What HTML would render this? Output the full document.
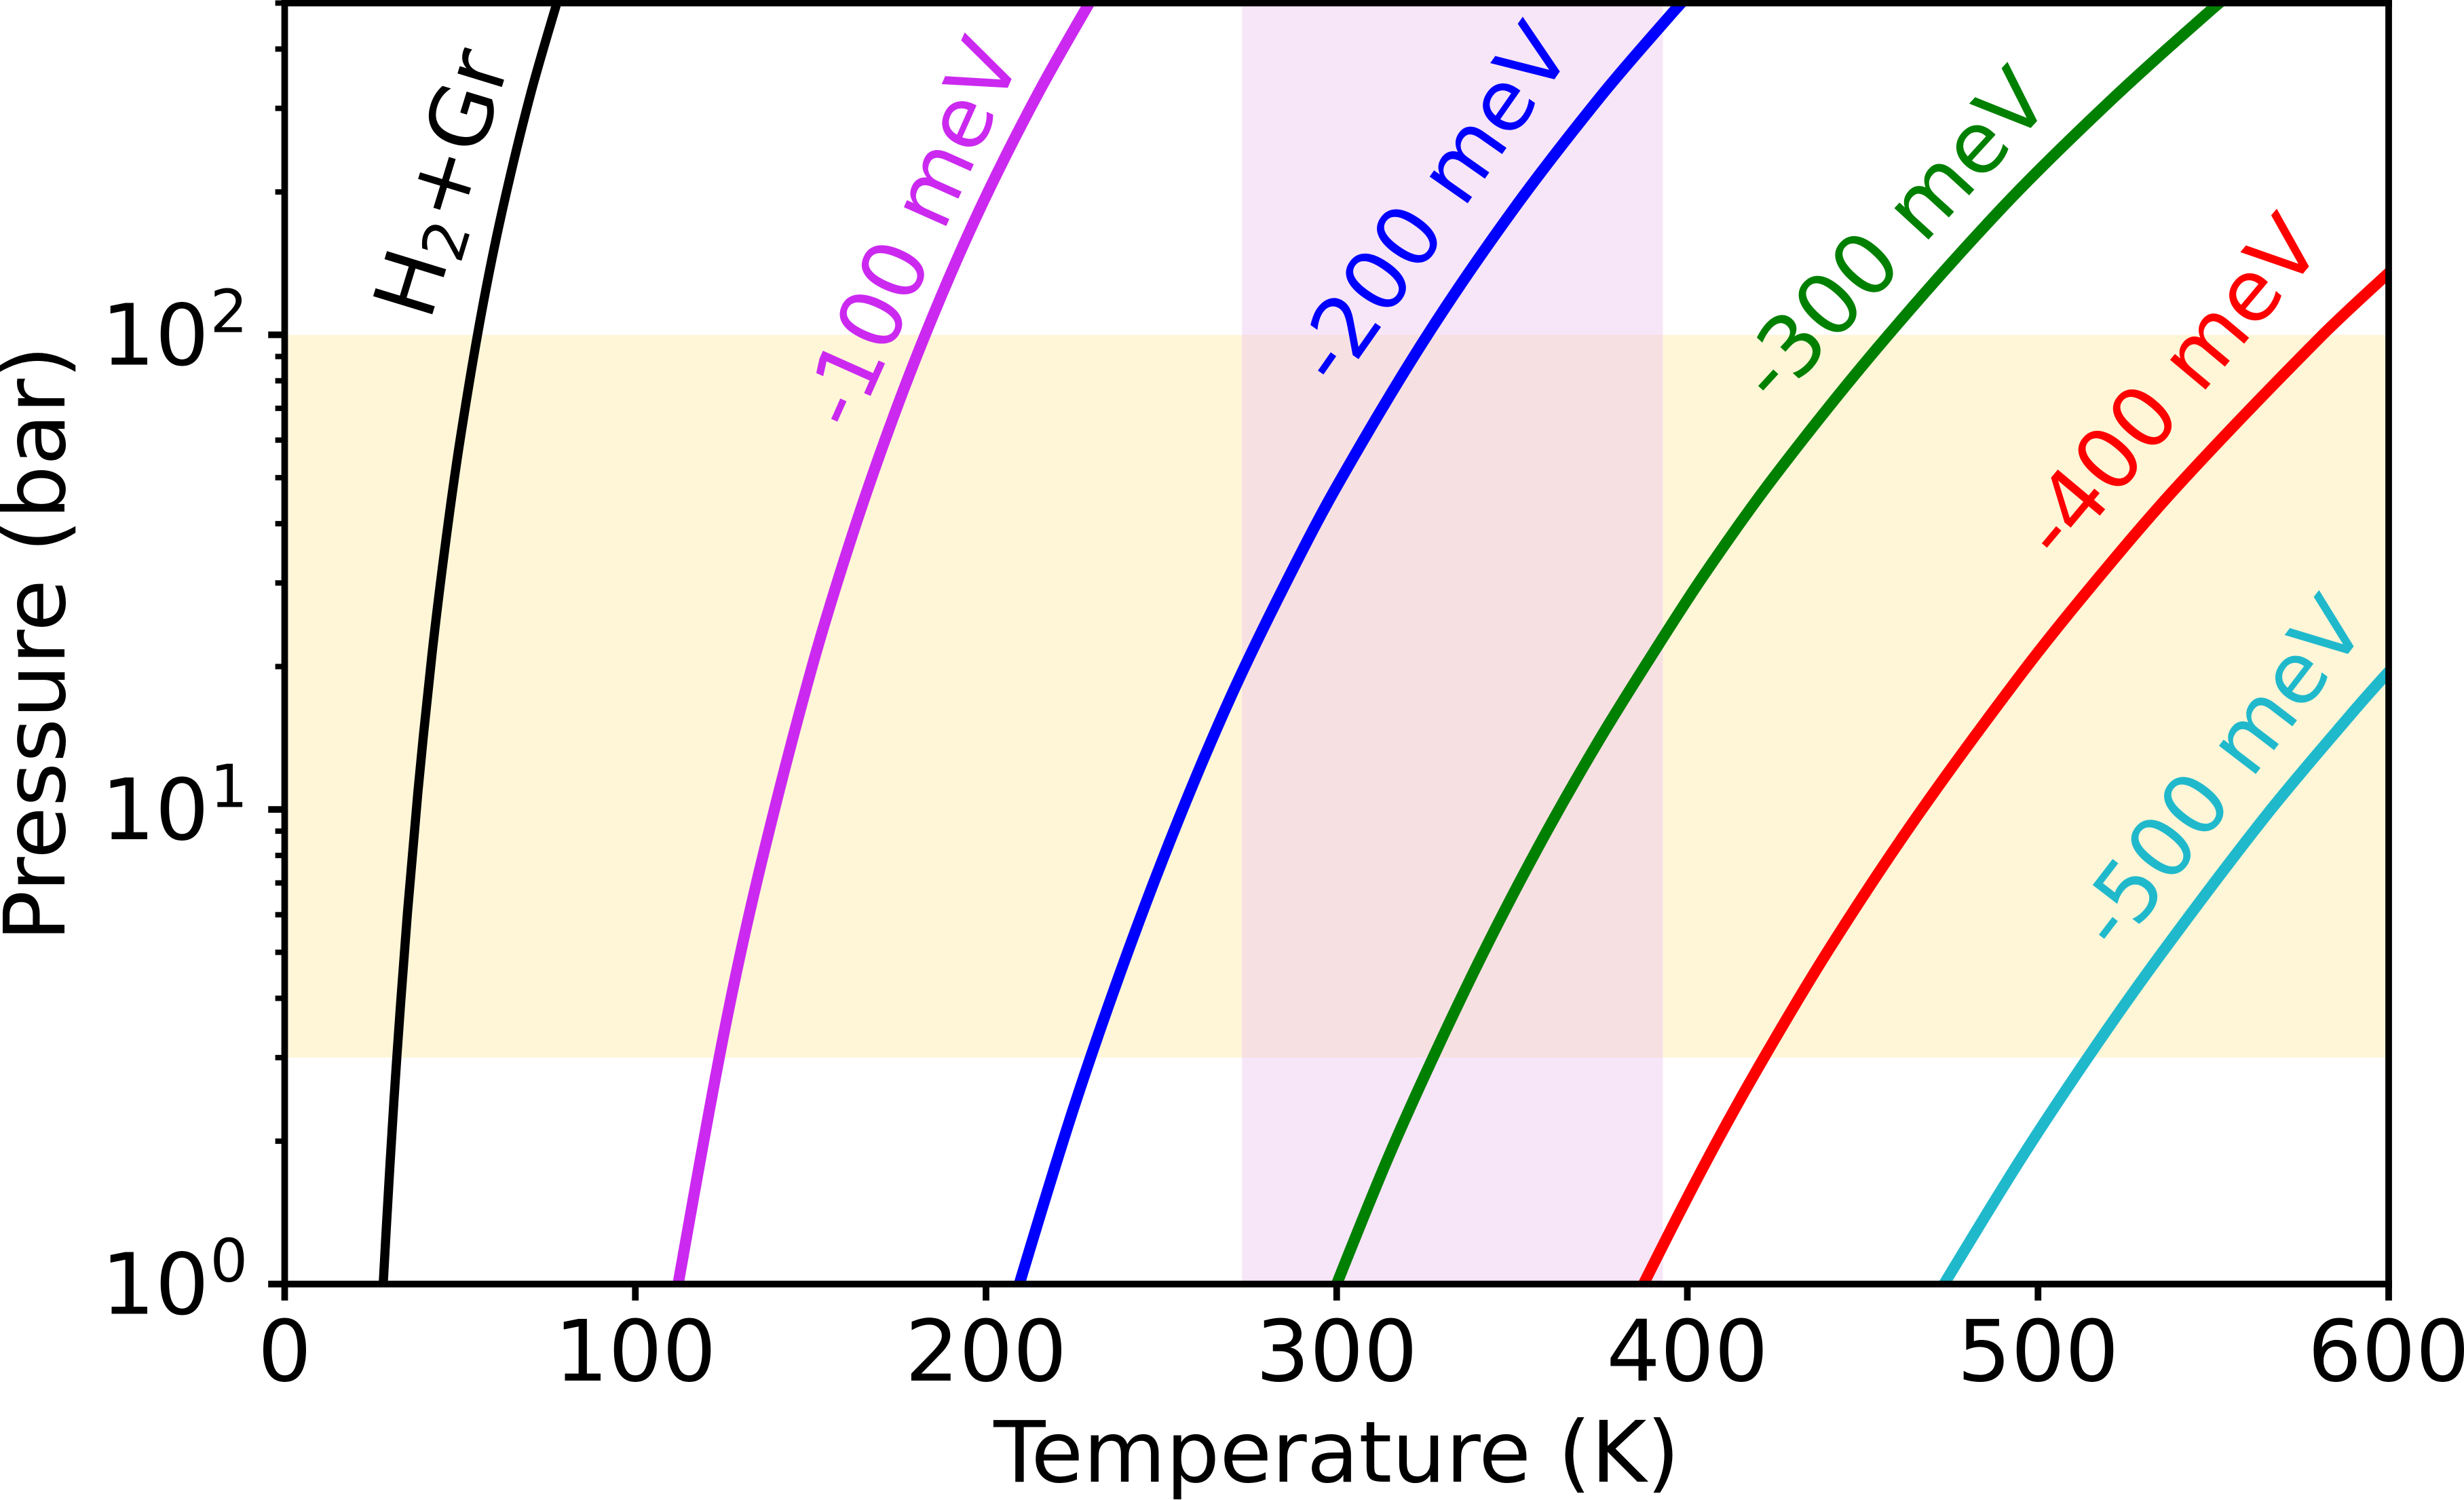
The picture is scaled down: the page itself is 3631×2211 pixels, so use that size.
<!DOCTYPE html>
<html lang="en">
<head>
<meta charset="utf-8">
<title>Pressure vs Temperature</title>
<style>
html,body{margin:0;padding:0;background:#fff;}
svg{display:block;position:absolute;left:0;top:0;}
text{font-family:"DejaVu Sans","Liberation Sans",sans-serif;font-size:125px;}
</style>
</head>
<body>
<svg id="chart" xmlns="http://www.w3.org/2000/svg" width="3631" height="2211" viewBox="0 0 3631 2211">
  <defs>
    <clipPath id="axes-clip"><rect x="419.5" y="4.5" width="3100.5" height="1888.2"></rect></clipPath>
  </defs>
  <rect x="0" y="0" width="3631" height="2211" fill="#ffffff"></rect>
  <g id="bands"></g>
  <g id="curves" clip-path="url(#axes-clip)"></g>
  <g id="labels"></g>
  <g id="axes"></g>
</svg>
<script>
// Axis limits
const xLimits = [0, 600];
const yLimits = [1, 500];
// Tick values
const xTicks = [0, 100, 200, 300, 400, 500, 600];
const yMajorTicks = [1, 10, 100];
const yMajorExponents = ["0", "1", "2"];
const yMinorTicks = [2, 3, 4, 5, 6, 7, 8, 9, 20, 30, 40, 50, 60, 70, 80, 90, 200, 300, 400, 500];
// Shaded ranges
const pressureBand = [3, 100];
const temperatureBand = [273, 393];
// Curve values
const h2GrTemperature = [27, 28.1, 30, 32, 35, 38, 42, 46, 50, 56, 62, 70, 78, 80];
const h2GrPressure = [0.693, 1, 1.77, 3.02, 6.04, 10.9, 21.2, 37, 59.9, 110, 182, 319, 511, 568];
const m100Temperature = [110, 112.2, 125, 135, 150, 162.5, 175, 187.5, 200, 215, 230, 235];
const m100Pressure = [0.793, 1, 3.3, 7.23, 19.5, 39.1, 71.6, 122, 196, 324, 508, 583];
const m200Temperature = [205, 209.5, 225, 240, 255, 270, 285, 300, 325, 350, 375, 395, 405];
const m200Pressure = [0.758, 1, 2.35, 4.91, 9.56, 17.4, 29.5, 47.9, 97.6, 182, 316, 470, 567];
const m300Temperature = [295, 300, 315, 330, 345, 360, 375, 390, 405, 425, 455, 490, 520, 550, 560];
const m300Pressure = [0.799, 1, 1.87, 3.29, 5.56, 9.01, 14.06, 21.2, 31.4, 50.5, 95.4, 186, 308, 488, 561];
const m400Temperature = [380, 387.5, 405, 420, 440, 465, 495, 515, 540, 580, 600, 610];
const m400Pressure = [0.764, 1, 1.79, 2.84, 5.02, 9.55, 19.2, 29.4, 48.2, 98, 135, 157];
const m500Temperature = [465, 473.2, 495, 515, 535, 565, 590, 600, 610];
const m500Pressure = [0.787, 1, 1.83, 3.06, 4.95, 9.7, 16.1, 19.5, 23.4];

const AX = {left: 419.5, right: 3520, top: 4.5, bottom: 1892.7};
const NS = 'http://www.w3.org/2000/svg';

function xScale(t) {
  return AX.left + (t - xLimits[0]) / (xLimits[1] - xLimits[0]) * (AX.right - AX.left);
}
function yScale(p) {
  const lo = Math.log10(yLimits[0]);
  const hi = Math.log10(yLimits[1]);
  return AX.bottom - (Math.log10(p) - lo) / (hi - lo) * (AX.bottom - AX.top);
}
function make(parent, tag, attrs, txt) {
  const el = document.createElementNS(NS, tag);
  for (const k in attrs) el.setAttribute(k, attrs[k]);
  if (txt !== undefined) el.textContent = txt;
  parent.appendChild(el);
  return el;
}
function smoothPath(temps, press) {
  const pts = temps.map((t, i) => [xScale(t), yScale(press[i])]);
  const n = pts.length;
  const chord = [];
  for (let i = 0; i < n - 1; i++) {
    chord.push(Math.hypot(pts[i + 1][0] - pts[i][0], pts[i + 1][1] - pts[i][1]));
  }
  const tangents = pts.map((p, i) => {
    if (i === 0) return [(pts[1][0] - p[0]) / chord[0], (pts[1][1] - p[1]) / chord[0]];
    if (i === n - 1) return [(p[0] - pts[i - 1][0]) / chord[i - 1], (p[1] - pts[i - 1][1]) / chord[i - 1]];
    const sum = chord[i - 1] + chord[i];
    return [(pts[i + 1][0] - pts[i - 1][0]) / sum, (pts[i + 1][1] - pts[i - 1][1]) / sum];
  });
  let d = 'M' + pts[0][0].toFixed(2) + ' ' + pts[0][1].toFixed(2);
  for (let i = 0; i < n - 1; i++) {
    const h = chord[i] / 3;
    const c1 = [pts[i][0] + tangents[i][0] * h, pts[i][1] + tangents[i][1] * h];
    const c2 = [pts[i + 1][0] - tangents[i + 1][0] * h, pts[i + 1][1] - tangents[i + 1][1] * h];
    d += 'C' + c1[0].toFixed(2) + ' ' + c1[1].toFixed(2) + ' ' + c2[0].toFixed(2) + ' ' + c2[1].toFixed(2) + ' ' + pts[i + 1][0].toFixed(2) + ' ' + pts[i + 1][1].toFixed(2);
  }
  return d;
}

const bands = document.getElementById('bands');
const curves = document.getElementById('curves');
const labels = document.getElementById('labels');
const axes = document.getElementById('axes');

// Shaded bands
const yellowBand = make(bands, 'rect', {x: AX.left, width: AX.right - AX.left, y: yScale(pressureBand[1]), height: yScale(pressureBand[0]) - yScale(pressureBand[1]), fill: '#fff6d8'});


const purpleBand = make(bands, 'rect', {x: xScale(temperatureBand[0]), width: xScale(temperatureBand[1]) - xScale(temperatureBand[0]), y: AX.top, height: AX.bottom - AX.top, fill: '#f7e5f8'});


const overlapBand = make(bands, 'rect', {x: xScale(temperatureBand[0]), width: xScale(temperatureBand[1]) - xScale(temperatureBand[0]), y: yScale(pressureBand[1]), height: yScale(pressureBand[0]) - yScale(pressureBand[1]), fill: '#f7e0e2'});



// Curves
const curveH2 = make(curves, 'path', {d: smoothPath(h2GrTemperature, h2GrPressure), fill: 'none', stroke: '#000000', 'stroke-width': 13.5});


const curve100 = make(curves, 'path', {d: smoothPath(m100Temperature, m100Pressure), fill: 'none', stroke: '#cb29f0', 'stroke-width': 16.5});


const curve200 = make(curves, 'path', {d: smoothPath(m200Temperature, m200Pressure), fill: 'none', stroke: '#0000ff', 'stroke-width': 16.5});


const curve300 = make(curves, 'path', {d: smoothPath(m300Temperature, m300Pressure), fill: 'none', stroke: '#008000', 'stroke-width': 16.5});


const curve400 = make(curves, 'path', {d: smoothPath(m400Temperature, m400Pressure), fill: 'none', stroke: '#ff0000', 'stroke-width': 16.5});


const curve500 = make(curves, 'path', {d: smoothPath(m500Temperature, m500Pressure), fill: 'none', stroke: '#20b9cc', 'stroke-width': 16.5});



// Curve labels
const labelH2 = make(labels, 'text', {transform: 'translate(633.5 475) rotate(-73)', fill: '#000000'});


make(labelH2, 'tspan', {}, 'H');
make(labelH2, 'tspan', {dy: 18, style: 'font-size:87.5px'}, '2');
make(labelH2, 'tspan', {dy: -18}, '+Gr');
const label100 = make(labels, 'text', {transform: 'translate(1258.2 639) rotate(-66)', fill: '#cb29f0'}, '-100 meV');


const label200 = make(labels, 'text', {transform: 'translate(1970.7 573.8) rotate(-55)', fill: '#0000ff'}, '-200 meV');


const label300 = make(labels, 'text', {transform: 'translate(2615.7 599.9) rotate(-47.5)', fill: '#008000'}, '-300 meV');


const label400 = make(labels, 'text', {transform: 'translate(3035 830.8) rotate(-50)', fill: '#ff0000'}, '-400 meV');


const label500 = make(labels, 'text', {transform: 'translate(3120.4 1406.5) rotate(-52.5)', fill: '#20b9cc'}, '-500 meV');



// Ticks
xTicks.forEach(function (t) {
  const tick = make(axes, 'line', {x1: xScale(t), x2: xScale(t), y1: AX.bottom, y2: AX.bottom + 24.3, stroke: '#000', 'stroke-width': 9.8});
  
  
  const lab = make(axes, 'text', {x: xScale(t), y: 2035, 'text-anchor': 'middle', fill: '#000'}, String(t));
  
  
});
yMinorTicks.forEach(function (p) {
  const tick = make(axes, 'line', {x1: AX.left - 13.9, x2: AX.left, y1: yScale(p), y2: yScale(p), stroke: '#000', 'stroke-width': 8});
  
  
});
yMajorTicks.forEach(function (p, i) {
  const tick = make(axes, 'line', {x1: AX.left - 24.3, x2: AX.left, y1: yScale(p), y2: yScale(p), stroke: '#000', 'stroke-width': 9.8});
  
  
  const base = make(axes, 'text', {x: 149, y: yScale(p) + 44, fill: '#000'}, '10');
  
  
  const exp = make(axes, 'text', {x: 309.5, y: yScale(p) - 3.8, fill: '#000', style: 'font-size:87.5px'}, yMajorExponents[i]);
  
  
});

// Spines
const spineTop = make(axes, 'line', {x1: AX.left, x2: AX.right, y1: AX.top, y2: AX.top, stroke: '#000', 'stroke-width': 9.8, 'stroke-linecap': 'square'});


const spineBottom = make(axes, 'line', {x1: AX.left, x2: AX.right, y1: AX.bottom, y2: AX.bottom, stroke: '#000', 'stroke-width': 9.8, 'stroke-linecap': 'square'});


const spineLeft = make(axes, 'line', {x1: AX.left, x2: AX.left, y1: AX.top, y2: AX.bottom, stroke: '#000', 'stroke-width': 9.8, 'stroke-linecap': 'square'});


const spineRight = make(axes, 'line', {x1: AX.right, x2: AX.right, y1: AX.top, y2: AX.bottom, stroke: '#000', 'stroke-width': 9.8, 'stroke-linecap': 'square'});



// Axis titles
const xTitle = make(axes, 'text', {x: (AX.left + AX.right) / 2, y: 2184, 'text-anchor': 'middle', fill: '#000'}, 'Temperature (K)');


const yTitle = make(axes, 'text', {transform: 'translate(95 ' + ((AX.top + AX.bottom) / 2) + ') rotate(-90)', 'text-anchor': 'middle', fill: '#000'}, 'Pressure (bar)');


</script>
</body>
</html>
